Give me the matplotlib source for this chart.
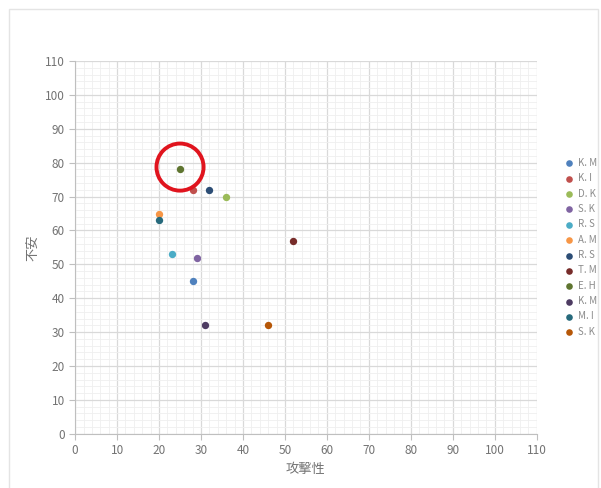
import matplotlib.pyplot as plt
from matplotlib.patches import Rectangle
from matplotlib.ticker import MultipleLocator

plt.rcParams['font.family'] = ['Noto Sans CJK JP', 'DejaVu Sans']

# data
names = ['K. M', 'K. I', 'D. K', 'S. K', 'R. S', 'A. M',
         'R. S', 'T. M', 'E. H', 'K. M', 'M. I', 'S. K']
aggression = [28, 28, 36, 29, 23, 20, 32, 52, 25, 31, 20, 46]
anxiety = [45, 72, 70, 52, 53, 65, 72, 57, 78, 32, 63, 32]
colors = ['#4F81BD', '#C0504D', '#9BBB59', '#8064A2', '#4BACC6', '#F79646',
          '#2C4D75', '#772C2A', '#5F7530', '#4D3B62', '#276A7C', '#B65708']
highlight = 'E. H'

fig = plt.figure(figsize=(6.01, 4.88), dpi=100)
ax = fig.add_axes([0.125, 0.111, 0.768, 0.764])

# faint chart-area border
fig.patches.append(Rectangle((9 / 601, -0.01), 589 / 601, 1 - 9 / 488 + 0.01,
                             transform=fig.transFigure, fill=False,
                             edgecolor='#e4e4e4', linewidth=1))

for name, x, y, c in zip(names, aggression, anxiety, colors):
    ax.scatter(x, y, s=28, color=c, label=name, zorder=3, linewidths=0)
    if name == highlight:
        # red ring drawn around the highlighted person
        ax.scatter(x, y + 0.7, s=1150, facecolors='none', edgecolors='#e0141e',
                   linewidths=2.8, zorder=4)

ax.set_xlim(0, 110)
ax.set_ylim(0, 110)
ax.xaxis.set_major_locator(MultipleLocator(10))
ax.yaxis.set_major_locator(MultipleLocator(10))
ax.xaxis.set_minor_locator(MultipleLocator(2))
ax.yaxis.set_minor_locator(MultipleLocator(2))
ax.grid(which='major', color='#d9d9d9', linewidth=0.9)
ax.grid(which='minor', color='#efefef', linewidth=0.6)
ax.set_axisbelow(True)

for side in ['top', 'right']:
    ax.spines[side].set_visible(False)
for side in ['left', 'bottom']:
    ax.spines[side].set_color('#bfbfbf')
ax.tick_params(which='major', colors='#bfbfbf', labelcolor='#737373',
               labelsize=8.5, length=4)
ax.tick_params(which='minor', length=0)

ax.set_xlabel('攻撃性', color='#737373', fontsize=9.5, labelpad=4)
ax.set_ylabel('不安', color='#737373', fontsize=9.5, labelpad=4)

ax.legend(loc='center left', bbox_to_anchor=(1.04, 0.5), frameon=False,
          fontsize=7, labelcolor='#8c8c8c', handletextpad=0.0,
          markerscale=0.9, labelspacing=0.55, borderaxespad=0.0)

plt.savefig('out.png', dpi=100)
